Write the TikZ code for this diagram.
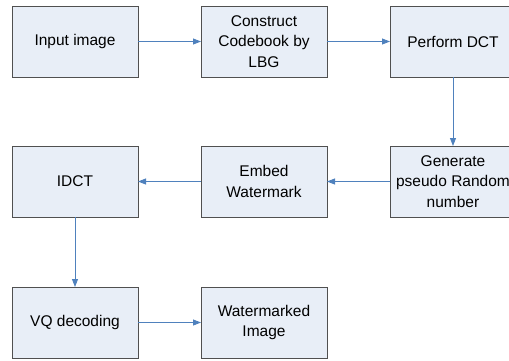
\documentclass[tikz,border=0pt]{standalone}
\usepackage{fontspec}
\setmainfont{Liberation Sans}
\usetikzlibrary{positioning,arrows.meta}
\definecolor{boxfill}{RGB}{232,238,247}
\definecolor{boxline}{RGB}{80,80,80}
\definecolor{flowblue}{RGB}{79,129,189}
\tikzset{
	stage/.style={rectangle, draw=boxline, fill=boxfill, line width=1pt, outer sep=0pt, inner sep=0pt, minimum width=126pt, minimum height=71pt, align=center, font=\fontsize{15.5}{20.7}\selectfont}, % one step of the process
	flow/.style={-{Triangle[length=8pt,width=6pt]}, draw=flowblue, line width=0.9pt} % connector between steps
}

\begin{document}
\begin{tikzpicture}[x=1pt,y=-1pt,node distance=69pt and 63pt]
	\useasboundingbox (0,0) rectangle (509,360);
	\node[stage] (input) at (75,41.5) {Input image};
	\node[stage] (codebook) [right=of input] {Construct\\Codebook by\\LBG};
	\node[stage] (dct) [right=of codebook] {Perform DCT};
	\node[stage] (random) [below=of dct] {Generate\\pseudo Random\\number};
	\node[stage] (embed) [left=of random] {Embed\\Watermark};
	\node[stage] (idct) [left=of embed] {IDCT};
	\node[stage] (vq) [below=70pt of idct] {VQ decoding};
	\node[stage] (output) [right=of vq] {Watermarked\\Image};
	\draw[flow] (input) -- (codebook);
	\draw[flow] (codebook) -- (dct);
	\draw[flow] (dct) -- (random);
	\draw[flow] (random) -- (embed);
	\draw[flow] (embed) -- (idct);
	\draw[flow] (idct) -- (vq);
	\draw[flow] (vq) -- (output);
\end{tikzpicture}
\end{document}
